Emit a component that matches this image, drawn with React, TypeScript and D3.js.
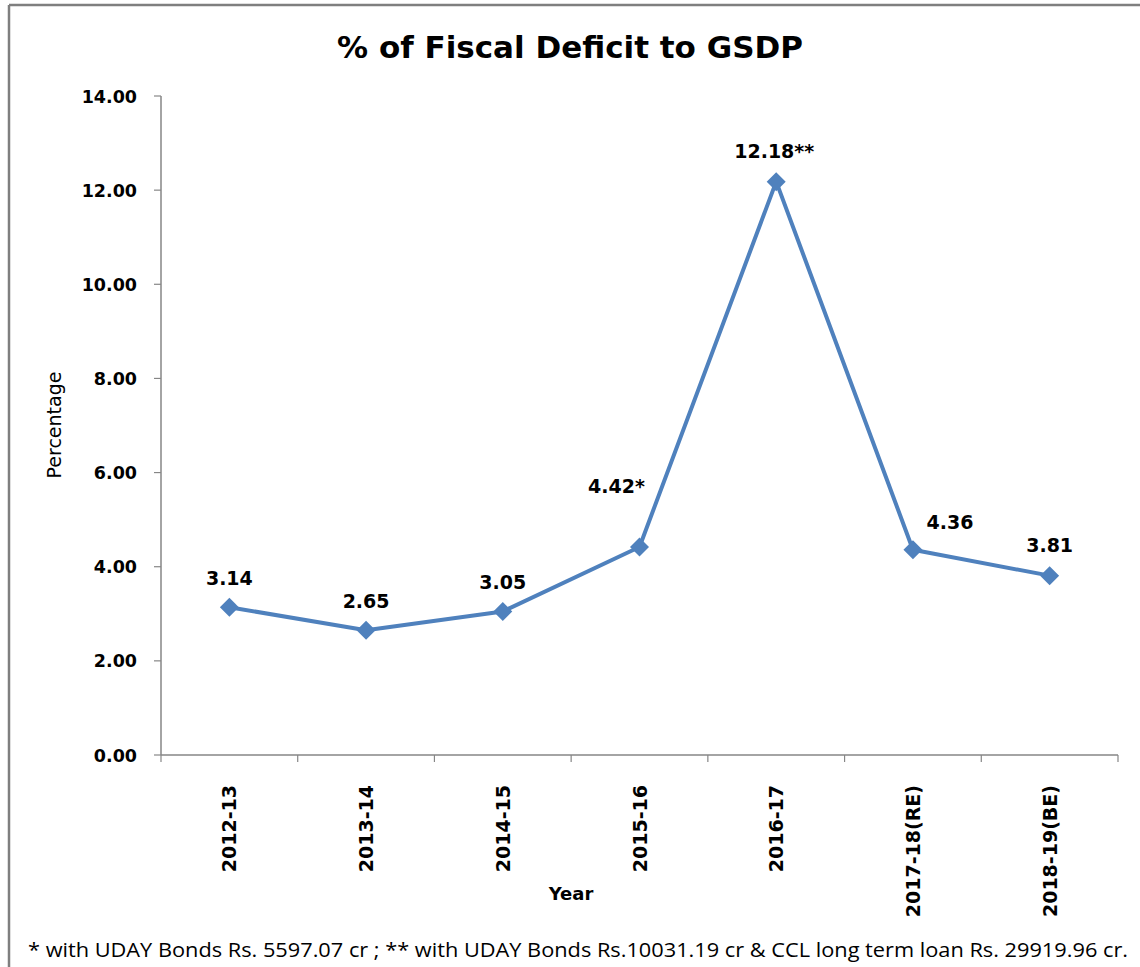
import * as d3 from "d3";

const W = 1140, H = 967;
const PAD = { left: 161, right: 22, top: 96, bottom: 212 };

const years = ["2012-13", "2013-14", "2014-15", "2015-16", "2016-17", "2017-18(RE)", "2018-19(BE)"];
const deficit = [3.14, 2.65, 3.05, 4.42, 12.18, 4.36, 3.81];
const valueLabels = ["3.14", "2.65", "3.05", "4.42*", "12.18**", "4.36", "3.81"];
// label offset relative to the point: [dx, dy]
const labelOffsets: [number, number][] = [[0, -22], [0, -22], [0, -22], [-23, -54], [-2, -24], [37, -21], [0, -24]];
const yTicks = [0, 2, 4, 6, 8, 10, 12, 14];

const BLUE = "#4F81BD";
const AXIS = "#868686";
const TAHOMA = "'DejaVu Sans', Verdana, sans-serif";
const CALIBRI = "'Open Sans', 'Liberation Sans', sans-serif";

export default function App() {
  const x = d3.scaleBand<string>().domain(years).range([PAD.left, W - PAD.right]);
  const y = d3.scaleLinear().domain([0, 14]).range([H - PAD.bottom, PAD.top]);
  const cx = (d: string) => (x(d) ?? 0) + x.bandwidth() / 2;

  const line = d3.line<number>()
    .x((_, i) => cx(years[i]))
    .y((d) => y(d));

  const x0 = PAD.left, x1 = W - PAD.right, y0 = H - PAD.bottom;
  const diamond = d3.symbol(d3.symbolDiamond2, 230)();

  return (
    <svg width={W} height={H} style={{ position: "absolute", left: 0, top: 0, display: "block", background: "#fff" }}>
      {/* frame */}
      <line x1={9} y1={5} x2={W} y2={5} stroke="#7F7F7F" strokeWidth={2.5} />
      <line x1={9} y1={5} x2={9} y2={H} stroke="#7F7F7F" strokeWidth={2.5} />

      {/* title */}
      <text x={570} y={58} textAnchor="middle" fontSize={31} fontWeight="bold" fontFamily={TAHOMA} fill="#000">
        % of Fiscal Deficit to GSDP
      </text>

      {/* y axis */}
      <line x1={x0} y1={y(14)} x2={x0} y2={y0} stroke={AXIS} strokeWidth={1.5} />
      {yTicks.map((t) => (
        <g key={t}>
          <line x1={x0 - 7} y1={y(t)} x2={x0} y2={y(t)} stroke={AXIS} strokeWidth={1.2} />
          <text x={137} y={y(t) + 6.5} textAnchor="end" fontSize={17.5} fontWeight="bold" fontFamily={TAHOMA} fill="#000">
            {t.toFixed(2)}
          </text>
        </g>
      ))}
      <text transform={`translate(61,${425}) rotate(-90)`} textAnchor="middle" fontSize={19} fontFamily={TAHOMA} fill="#000">
        Percentage
      </text>

      {/* x axis */}
      <line x1={x0} y1={y0} x2={x1} y2={y0} stroke={AXIS} strokeWidth={1.5} />
      {[...years.map((d) => x(d) ?? 0), x1].map((px, i) => (
        <line key={i} x1={px} y1={y0} x2={px} y2={y0 + 7} stroke={AXIS} strokeWidth={1.2} />
      ))}
      {years.map((d) => (
        <text key={d} transform={`translate(${cx(d) + 7},${785}) rotate(-90)`} textAnchor="end"
          fontSize={19} fontWeight="bold" fontFamily={TAHOMA} fill="#000">
          {d}
        </text>
      ))}
      <text x={571} y={900} textAnchor="middle" fontSize={18} fontWeight="bold" fontFamily={TAHOMA} fill="#000">
        Year
      </text>

      {/* series */}
      <path d={line(deficit) ?? ""} fill="none" stroke={BLUE} strokeWidth={4} strokeLinejoin="round" />
      {deficit.map((v, i) => (
        <path key={i} d={diamond ?? ""} transform={`translate(${cx(years[i])},${y(v)})`} fill={BLUE} />
      ))}
      {deficit.map((v, i) => (
        <text key={`l${i}`} x={cx(years[i]) + labelOffsets[i][0]} y={y(v) + labelOffsets[i][1]}
          textAnchor="middle" fontSize={19} fontWeight="bold" fontFamily={TAHOMA} fill="#000">
          {valueLabels[i]}
        </text>
      ))}

      {/* footnote */}
      <text x={28} y={957} fontSize={20} fontFamily={CALIBRI} fill="#000" textLength={1100} lengthAdjust="spacingAndGlyphs">
        * with UDAY Bonds Rs. 5597.07 cr ; ** with UDAY Bonds Rs.10031.19 cr &amp; CCL long term loan Rs. 29919.96 cr.
      </text>
    </svg>
  );
}
